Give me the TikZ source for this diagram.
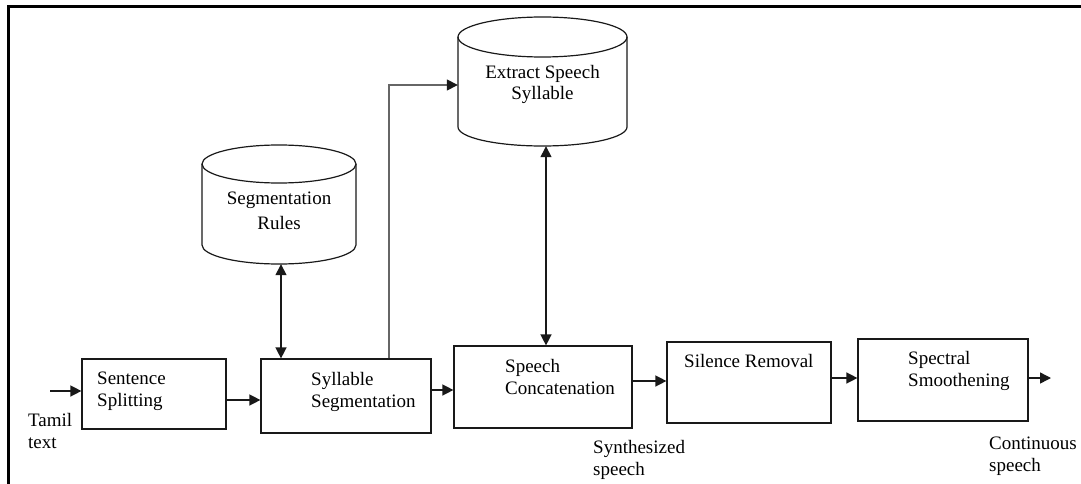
\documentclass[tikz,border=0pt]{standalone}
\usepackage{fontspec}
\setmainfont{Liberation Serif}
\usetikzlibrary{arrows.meta,calc}
\begin{document}
\begin{tikzpicture}[x=1pt,y=-1pt,
  lbl/.style={font=\fontsize{19pt}{21.5pt}\selectfont, inner sep=0pt, align=left, text=black},
  clbl/.style={font=\fontsize{19pt}{#1}\selectfont, inner sep=0pt, align=center, text=black},
  box/.style={draw=black!90, line width=1.2pt, inner sep=0pt},
  cylbox/.style={inner sep=0pt},
  cyl/.style={draw=black!90, line width=1.2pt},
  arr/.style={draw=black!90, line width=1.4pt, -{Triangle[length=11pt,width=11pt]}},
  darr/.style={draw=black!90, line width=1.4pt, {Triangle[length=11pt,width=11pt]}-{Triangle[length=11pt,width=11pt]}},
  garr/.style={draw=black!60, line width=1.4pt, -{Triangle[length=11pt,width=11pt,color=black!90]}},
  frame/.style={draw=black, line width=3pt}
]
\useasboundingbox (0,0) rectangle (1081,484);
% frame
\draw[frame] (8.7,484) -- (8.7,6.5) -- (1081,6.5);

% process boxes
\node[box, minimum width=144pt, minimum height=70pt] (sent) at (154,394) {};
\node[box, minimum width=170pt, minimum height=74pt] (syl) at (346,396) {};
\node[box, minimum width=178pt, minimum height=82pt] (conc) at (543,387) {};
\node[box, minimum width=164pt, minimum height=81pt] (sil) at (749,382.5) {};
\node[box, minimum width=170pt, minimum height=82pt] (spec) at (943,380) {};

% box texts (base anchor = baseline of last line)
\node[lbl, anchor=base west] (tsent) at (97,406) {Sentence\\Splitting};
\node[lbl, anchor=base west] (tsyl) at (311,407) {Syllable\\Segmentation};
\node[lbl, anchor=base west] (tconc) at (505,394) {Speech\\Concatenation};
\node[lbl, anchor=base west] (tsil) at (684,367) {Silence Removal};
\node[lbl, anchor=base west] (tspec) at (908,386) {Spectral\\Smoothening};

% cylinders
\node[cylbox, minimum width=154pt, minimum height=119pt] (rules) at (279,204.5) {};
\draw[cyl] (279,164) ellipse [x radius=77pt, y radius=19pt];
\draw[cyl] (202,164) -- (202,245) arc[start angle=180, end angle=360, x radius=77pt, y radius=19pt] -- (356,164);
\node[clbl=24.5pt, anchor=base] (trules) at (279,229.3) {Segmentation\\Rules};

\node[cylbox, minimum width=169pt, minimum height=129pt] (extr) at (542.5,81.5) {};
\draw[cyl] (542.5,37) ellipse [x radius=84.5pt, y radius=20pt];
\draw[cyl] (458,37) -- (458,127) arc[start angle=180, end angle=360, x radius=84.5pt, y radius=19pt] -- (627,37);
\node[clbl=21pt, anchor=base] (textr) at (542.5,100) {Extract Speech\\Syllable};

% free labels
\node[lbl, anchor=base west] (tamil) at (28,448) {Tamil\\text};
\node[lbl, anchor=base west] (synth) at (593,475) {Synthesized\\speech};
\node[lbl, anchor=base west] (cont) at (989,471) {Continuous\\speech};

% connectors
\coordinate (in) at (50,391);
\coordinate (out) at (1051,378);
\coordinate (up) at (389,85);
\draw[arr] (in) -- (in -| sent.west);
\draw[arr] (sent.east |- 0,400) -- (syl.west |- 0,400);
\draw[arr] (syl.east |- 0,390) -- (conc.west |- 0,390);
\draw[arr] (conc.east |- 0,381) -- (sil.west |- 0,381);
\draw[arr] (sil.east |- 0,378) -- (spec.west |- 0,378);
\draw[arr] (spec.east |- out) -- (out);
\draw[darr] (281,0 |- rules.south) -- (281,0 |- syl.north);
\draw[darr] (546,0 |- extr.south) -- (546,0 |- conc.north);
\draw[garr] (syl.north -| up) -- (up) -- (up -| extr.west);
\end{tikzpicture}
\end{document}
